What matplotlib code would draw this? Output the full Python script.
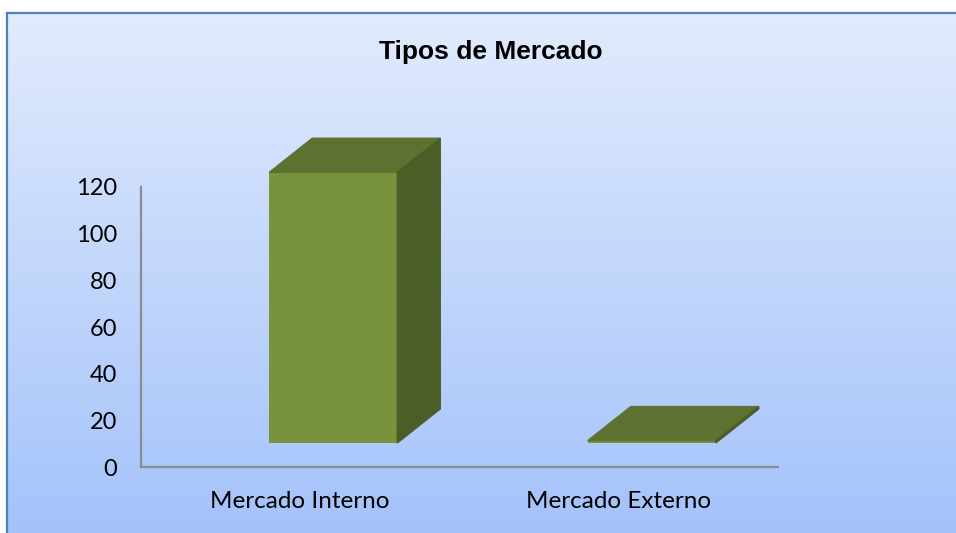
import numpy as np
import matplotlib
matplotlib.use("Agg")
import matplotlib.pyplot as plt
from matplotlib.patches import Polygon
from matplotlib.lines import Line2D
from matplotlib.transforms import ScaledTranslation

# data
categories = ["Mercado Interno", "Mercado Externo"]
values = [116, 1]
yticks = [0, 20, 40, 60, 80, 100, 120]
title = "Tipos de Mercado"

W, H, DPI = 956, 533, 100
fig = plt.figure(figsize=(W / DPI, H / DPI), dpi=DPI)
fig.patch.set_facecolor("white")

# gradient background of the chart area
bg = fig.add_axes([7 / W, 0, 1 - 7 / W, (H - 13) / H])
top_c = np.array([225, 235, 253]) / 255
bot_c = np.array([164, 194, 250]) / 255
t = np.linspace(0, 1, 256)[:, None]
grad = (top_c * (1 - t) + bot_c * t)[:, None, :]
bg.imshow(grad, aspect="auto", extent=[0, 1, 0, 1])
bg.set_axis_off()

# chart border (top and left visible)
border = "#4F81BD"
fig.add_artist(Line2D([7 / W, 1], [(H - 13) / H] * 2, color=border, lw=1.6))
fig.add_artist(Line2D([7 / W] * 2, [0, (H - 13) / H], color=border, lw=1.6))

ax = fig.add_axes([141 / W, (H - 467) / H, 637 / W, 280 / H])
ax.set_facecolor("none")
ax.set_xlim(0, 2)
ax.set_ylim(0, 120)
for s in ["top", "right"]:
    ax.spines[s].set_visible(False)
for s in ["left", "bottom"]:
    ax.spines[s].set_color("#8C8C8C")
    ax.spines[s].set_linewidth(1.6)

font = ["Lato", "DejaVu Sans"]
ax.set_yticks(yticks)
ax.set_yticklabels([str(v) for v in yticks], fontsize=17, family=font)
xpos = np.array([0.5, 1.5])
ax.set_xticks(xpos)
ax.set_xticklabels(categories, fontsize=17.5, family=font)
ax.tick_params(axis="y", length=0, pad=17)
ax.tick_params(axis="x", length=0, pad=17)

# pseudo 3D columns
off = ax.transData + ScaledTranslation(33 / DPI, 24 / DPI, fig.dpi_scale_trans)
bw = 0.402
ddx, ddy = 0.135, 14.6
front = "#79933D"
topc = "#5D7231"
side = "#4B5E27"
ax.bar(xpos, values, width=bw, color=front, transform=off, clip_on=False, zorder=3)
for x, v in zip(xpos, values):
    l, r = x - bw / 2, x + bw / 2
    ax.add_patch(Polygon([(l, v), (r, v), (r + ddx, v + ddy), (l + ddx, v + ddy)],
                         closed=True, color=topc, transform=off, clip_on=False, zorder=3))
    ax.add_patch(Polygon([(r, 0), (r + ddx, ddy), (r + ddx, v + ddy), (r, v)],
                         closed=True, color=side, transform=off, clip_on=False, zorder=3))

fig.text(491 / W, 1 - 52 / H, title, ha="center", va="center", fontsize=19,
         fontweight="bold", family=["Liberation Sans", "DejaVu Sans"])

fig.savefig("out.png", dpi=DPI)
